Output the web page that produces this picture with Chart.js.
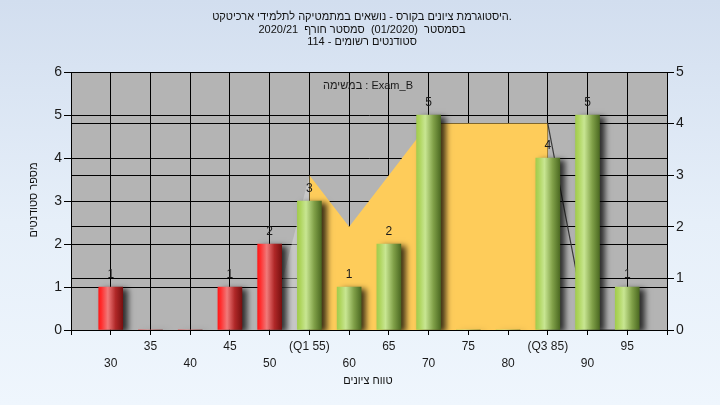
<!DOCTYPE html>
<html>
<head>
<meta charset="utf-8">
<script src="https://cdn.jsdelivr.net/npm/chart.js@4.4.1/dist/chart.umd.min.js"></script>
<style>
  html, body { margin:0; padding:0; }
  body { width:720px; height:405px; background: linear-gradient(to bottom, #d2deef 0%, #e6eff9 55%, #eff6fd 100%); }
  #wrap { width:720px; height:405px; position:relative; }
</style>
</head>
<body>
<div id="wrap"><canvas id="c" width="720" height="405"></canvas></div>
<script>
// ---- data ----
const grades = [30, 35, 40, 45, 50, 55, 60, 65, 70, 75, 80, 85, 90, 95];
const studentCounts = [1, 0, 0, 1, 2, 3, 1, 2, 5, 0, 0, 4, 5, 1];
const tickTexts = ['30', '35', '40', '45', '50', '(Q1 55)', '60', '65', '70', '75', '80', '(Q3 85)', '90', '95'];
const areaGrades = [50, 55, 60, 65, 70, 75, 80, 85, 90, 95];
const areaValues = [0, 3, 2, 3, 4, 4, 4, 4, 0, 0];
const passMark = 55;
const q1 = 55, q3 = 85;
const titleLines = [
  'היסטוגרמת ציונים בקורס - נושאים במתמטיקה לתלמידי ארכיטקט.',
  'בסמסטר  (01/2020)  סמסטר חורף  2020/21',
  'סטודנטים רשומים - 114'
];
const xTitle = 'טווח ציונים';
const yTitle = 'מספר סטודנטים';
const innerText = 'במשימה : Exam_B';

const FONT = '"Liberation Sans", Arial, sans-serif';

function barGradient(ctx) {
  const chart = ctx.chart;
  const raw = ctx.raw;
  const fail = raw && raw.x < passMark;
  if (!chart.chartArea || !raw) return fail ? '#e02020' : '#9cc850';
  const xs = chart.scales.x;
  const cx = xs.getPixelForValue(raw.x);
  const g = chart.ctx.createLinearGradient(cx - 12, 0, cx + 12, 0);
  if (fail) {
    g.addColorStop(0, '#ff1818');
    g.addColorStop(0.12, '#ff3030');
    g.addColorStop(0.38, '#f07a7a');
    g.addColorStop(0.7, '#b02828');
    g.addColorStop(1, '#781010');
  } else {
    g.addColorStop(0, '#a2cc4e');
    g.addColorStop(0.12, '#aed45c');
    g.addColorStop(0.36, '#c8e692');
    g.addColorStop(0.7, '#80a048');
    g.addColorStop(1, '#4c6a22');
  }
  return g;
}

const bgPlugin = {
  id: 'bg',
  beforeDraw(chart) {
    const {ctx, chartArea: a} = chart;
    ctx.save();
    ctx.fillStyle = '#b4b4b4';
    ctx.fillRect(a.left, a.top, a.right - a.left, a.bottom - a.top);
    ctx.restore();
  },
  beforeDatasetDraw(chart, args) {
    if (args.index === 0) {
      const ctx = chart.ctx;
      ctx.save();
      ctx.shadowColor = 'rgba(0,0,0,0.75)';
      ctx.shadowBlur = 6;
      ctx.shadowOffsetX = 5;
      ctx.shadowOffsetY = 2;
    }
  },
  afterDatasetDraw(chart, args) {
    if (args.index === 0) chart.ctx.restore();
  },
  afterDatasetsDraw(chart) {
    const {ctx} = chart;
    const meta = chart.getDatasetMeta(0);
    ctx.save();
    ctx.direction = 'ltr';
    ctx.font = '12px ' + FONT;
    ctx.fillStyle = '#1a1a1a';
    ctx.textAlign = 'center';
    ctx.textBaseline = 'middle';
    meta.data.forEach((el, i) => {
      const v = studentCounts[i];
      if (v > 0) ctx.fillText(String(v), el.x, el.y - 12);
    });
    ctx.font = '11px ' + FONT;
    ctx.fillText(innerText, 368, 86);
    ctx.restore();
  },
  afterDraw(chart) {
    const {ctx} = chart;
    ctx.save();
    ctx.direction = 'ltr';
    ctx.fillStyle = '#111';
    ctx.textAlign = 'center';
    ctx.textBaseline = 'middle';
    ctx.font = '11px ' + FONT;
    titleLines.forEach((t, i) => ctx.fillText(t, 362, 17 + i * 12.6));
    ctx.fillText(xTitle, 368, 381);
    ctx.translate(34, 200);
    ctx.rotate(-Math.PI / 2);
    ctx.fillText(yTitle, 0, 0);
    ctx.restore();
  }
};

const barData = grades.map((g, i) => ({x: g, y: studentCounts[i]}));
const areaData = areaGrades.map((g, i) => ({x: g, y: areaValues[i]}));

function segFill(c) {
  const a = c.p0.parsed.x, b = c.p1.parsed.x;
  if (a >= q1 && b <= q3) return '#fecc5a';
  if (b <= q1) return 'rgba(225,225,225,0.45)';
  return 'rgba(0,0,0,0)';
}
function segBorder(c) {
  const a = c.p0.parsed.x;
  if (a >= q3) return '#3a3a3a';
  return 'rgba(0,0,0,0)';
}

new Chart(document.getElementById('c'), {
  data: {
    datasets: [
      {
        type: 'bar',
        data: barData,
        backgroundColor: barGradient,
        borderWidth: 0,
        barThickness: 24,
        yAxisID: 'y',
        order: 1
      },
      {
        type: 'line',
        data: areaData,
        yAxisID: 'y1',
        fill: 'origin',
        pointRadius: 0,
        borderWidth: 1.2,
        tension: 0,
        backgroundColor: '#fecc5a',
        borderColor: 'rgba(0,0,0,0)',
        segment: { backgroundColor: segFill, borderColor: segBorder },
        order: 2
      }
    ]
  },
  options: {
    responsive: false,
    animation: false,
    devicePixelRatio: 1,
    layout: { padding: { top: 72, left: 0, right: 0, bottom: 0 } },
    plugins: { legend: { display: false }, tooltip: { enabled: false }, title: { display: false } },
    scales: {
      x: {
        type: 'linear',
        offset: false,
        min: 25, max: 100,
        afterFit(s) { s.height = 75; },
        afterBuildTicks(s) {
          const t = [];
          for (let v = 25; v <= 100; v += 5) t.push({value: v});
          s.ticks = t;
        },
        ticks: {
          autoSkip: false,
          maxRotation: 0,
          padding: 3,
          color: '#1a1a1a',
          font: { family: FONT, size: 12, lineHeight: 1.4 },
          callback(v) {
            const i = grades.indexOf(v);
            if (i < 0) return '';
            return i % 2 === 0 ? ['', tickTexts[i]] : [tickTexts[i], ''];
          }
        },
        grid: { offset: false, color: '#000', lineWidth: 1, tickLength: 5, drawTicks: true },
        border: { color: '#000', width: 1 }
      },
      y: {
        position: 'left',
        min: 0, max: 6,
        afterFit(s) { s.width = 71; },
        ticks: { stepSize: 1, padding: 2, color: '#1a1a1a', font: { family: FONT, size: 14 } },
        grid: { color: '#000', lineWidth: 1, tickLength: 7 },
        border: { color: '#000', width: 1 }
      },
      y1: {
        position: 'right',
        min: 0, max: 5,
        afterFit(s) { s.width = 53; },
        ticks: { stepSize: 1, padding: 2, color: '#1a1a1a', font: { family: FONT, size: 14 } },
        grid: { color: '#000', lineWidth: 1, tickLength: 7 },
        border: { color: '#000', width: 1 }
      }
    }
  },
  plugins: [bgPlugin]
});
</script>
</body>
</html>
